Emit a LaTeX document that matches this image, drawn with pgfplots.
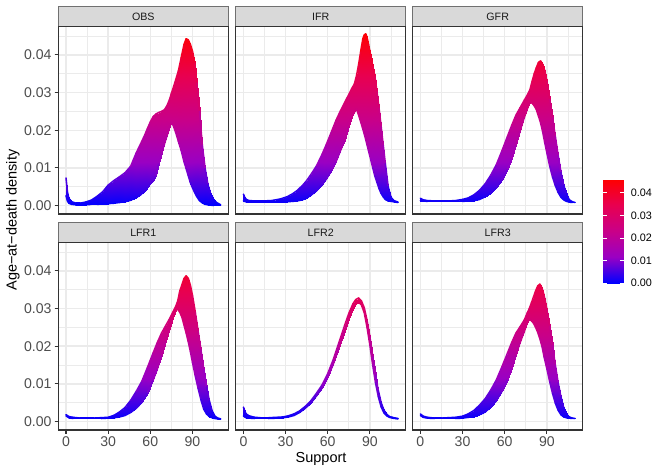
\documentclass[border=0pt]{standalone}
\usepackage{pgfplots}
\pgfplotsset{compat=1.18}
\usepackage{pgfplotstable}
\usepackage{fontspec}
\setmainfont{Liberation Sans}
\definecolor{grey92}{HTML}{EBEBEB}
\definecolor{grey85}{HTML}{D9D9D9}
\definecolor{grey30}{HTML}{4D4D4D}
\definecolor{grey20}{HTML}{333333}
\definecolor{grey10}{HTML}{1A1A1A}
\definecolor{stripborder}{HTML}{707070}
\pgfplotsset{colormap={br}{rgb255=(0,0,255) rgb255=(154,0,195) rgb255=(201,0,136) rgb255=(232,0,80) rgb255=(255,0,0)}}
\pgfplotstableset{create on use/zero/.style={create col/set={0}}}

% each table: lower envelope (first scanline), then upper envelope (second scanline)
\pgfplotstableread{
x y
0 0.0026
1 0.0012
2 0.0006
4 0.0003
7 0.0002
10 0.0002
14 0.0002
18 0.0003
22 0.0003
26 0.0004
30 0.0005
34 0.0006
38 0.0008
42 0.0010
46 0.0014
50 0.0021
53 0.0028
56 0.0038
58 0.0049
60 0.0058
62 0.0065
64 0.0079
66 0.0113
68 0.0139
70 0.0163
72 0.0187
74 0.0211
75 0.0222
76 0.0215
78 0.0195
80 0.0170
82 0.0146
84 0.0116
85.5 0.0098
87 0.0079
88.5 0.0061
90 0.0047
91.5 0.0035
93 0.0024
95 0.0013
97 0.0007
99 0.0003
101 0.0002
103 0.0001
105 0.0000
107 0.0000
110 0.0000
0 0.0073
1 0.0036
2 0.0019
4 0.0010
7 0.0006
10 0.0006
14 0.0009
18 0.0014
22 0.0024
26 0.0036
30 0.0054
34 0.0066
38 0.0076
42 0.0087
46 0.0104
50 0.0140
53 0.0163
56 0.0187
58 0.0205
60 0.0222
62 0.0236
64 0.0243
66 0.0247
68 0.0250
70 0.0254
72 0.0266
74 0.0285
75 0.0298
76 0.0309
78 0.0333
80 0.0358
82 0.0393
84 0.0428
85.5 0.0443
87 0.0440
88.5 0.0428
90 0.0410
91.5 0.0378
93 0.0325
95 0.0250
97 0.0160
99 0.0098
101 0.0055
103 0.0030
105 0.0016
107 0.0008
110 0.0002
}\obs

\pgfplotstableread{
x y
0 0.0012
1 0.0011
2 0.0010
4 0.0010
8 0.0010
14 0.0010
20 0.0010
26 0.0010
31 0.0010
35 0.0011
38 0.0012
42 0.0015
45 0.0020
48 0.0027
52 0.0039
56 0.0055
59 0.0070
63 0.0095
66 0.0117
69 0.0145
72 0.0174
75 0.0210
77 0.0235
79 0.0248
80.5 0.0256
82 0.0240
83.5 0.0222
85 0.0203
86 0.0190
87 0.0176
88 0.0161
89 0.0146
90.5 0.0124
92 0.0101
93.5 0.0079
95 0.0062
96.5 0.0045
98 0.0032
99.5 0.0023
101 0.0016
103 0.0012
105 0.0011
107 0.0010
110 0.0008
0 0.0030
1 0.0021
2 0.0016
4 0.0013
8 0.0012
14 0.0012
20 0.0013
26 0.0017
31 0.0023
35 0.0031
38 0.0039
42 0.0053
45 0.0066
48 0.0082
52 0.0105
56 0.0136
59 0.0162
63 0.0199
66 0.0227
69 0.0251
72 0.0273
75 0.0295
77 0.0310
79 0.0323
80.5 0.0345
82 0.0375
83.5 0.0410
85 0.0443
86 0.0453
87 0.0456
88 0.0447
89 0.0428
90.5 0.0400
92 0.0370
93.5 0.0344
95 0.0303
96.5 0.0259
98 0.0210
99.5 0.0160
101 0.0111
103 0.0050
105 0.0022
107 0.0013
110 0.0009
}\ifr

\pgfplotstableread{
x y
0 0.0013
2 0.0012
5 0.0011
10 0.0011
15 0.0011
20 0.0011
25 0.0011
30 0.0011
34 0.0012
38 0.0013
42 0.0016
46 0.0023
50 0.0033
54 0.0047
58 0.0068
62 0.0097
65 0.0125
68 0.0162
71 0.0199
74 0.0235
76 0.0256
78 0.0275
79.5 0.0272
81 0.0265
82.5 0.0255
84 0.0238
85.5 0.0220
87 0.0196
88.5 0.0167
90 0.0140
92 0.0105
94 0.0076
96 0.0053
98 0.0035
100 0.0022
102 0.0015
104 0.0011
106 0.0009
108 0.0008
110 0.0008
0 0.0019
2 0.0015
5 0.0013
10 0.0012
15 0.0012
20 0.0012
25 0.0013
30 0.0016
34 0.0020
38 0.0028
42 0.0040
46 0.0057
50 0.0080
54 0.0108
58 0.0145
62 0.0184
65 0.0213
68 0.0240
71 0.0260
74 0.0280
76 0.0293
78 0.0308
79.5 0.0330
81 0.0350
82.5 0.0366
84 0.0380
85.5 0.0384
87 0.0375
88.5 0.0358
90 0.0330
92 0.0282
94 0.0233
96 0.0184
98 0.0133
100 0.0088
102 0.0053
104 0.0030
106 0.0015
108 0.0010
110 0.0008
}\gfr

\pgfplotstableread{
x y
0 0.0015
2 0.0010
5 0.0008
10 0.0008
15 0.0008
20 0.0008
25 0.0008
30 0.0009
34 0.0010
38 0.0012
42 0.0016
46 0.0024
50 0.0035
54 0.0051
58 0.0077
62 0.0110
65 0.0140
68 0.0177
71 0.0215
74 0.0248
76 0.0275
78 0.0297
79.5 0.0298
81 0.0290
82.5 0.0277
84 0.0256
85.5 0.0235
87 0.0212
88.5 0.0186
90 0.0157
92 0.0121
94 0.0088
96 0.0058
98 0.0033
100 0.0020
102 0.0013
104 0.0010
106 0.0008
108 0.0007
110 0.0007
0 0.0018
2 0.0013
5 0.0011
10 0.0009
15 0.0009
20 0.0009
25 0.0010
30 0.0011
34 0.0016
38 0.0025
42 0.0037
46 0.0056
50 0.0080
54 0.0107
58 0.0144
62 0.0182
65 0.0210
68 0.0235
71 0.0255
74 0.0275
76 0.0290
78 0.0305
79.5 0.0320
81 0.0347
82.5 0.0363
84 0.0380
85.5 0.0387
87 0.0380
88.5 0.0362
90 0.0335
92 0.0290
94 0.0240
96 0.0190
98 0.0138
100 0.0092
102 0.0055
104 0.0028
106 0.0014
108 0.0009
110 0.0007
}\lfra

\pgfplotstableread{
x y
0 0.0015
1 0.0012
2 0.0010
4 0.0009
8 0.0008
12 0.0008
18 0.0008
24 0.0009
28 0.0010
32 0.0012
36 0.0016
40 0.0024
44 0.0035
48 0.0049
52 0.0068
56 0.0089
60 0.0117
64 0.0153
68 0.0196
72 0.0241
75 0.0273
78 0.0300
80 0.0312
82 0.0317
84 0.0310
86 0.0289
88 0.0250
90 0.0203
92 0.0150
94 0.0103
96 0.0066
98 0.0039
100 0.0023
102 0.0015
104 0.0011
106 0.0009
108 0.0008
110 0.0007
0 0.0038
1 0.0027
2 0.0020
4 0.0015
8 0.0011
12 0.0010
18 0.0010
24 0.0011
28 0.0012
32 0.0015
36 0.0020
40 0.0028
44 0.0040
48 0.0055
52 0.0075
56 0.0097
60 0.0127
64 0.0165
68 0.0210
72 0.0255
75 0.0287
78 0.0313
80 0.0324
82 0.0328
84 0.0320
86 0.0302
88 0.0268
90 0.0225
92 0.0172
94 0.0123
96 0.0082
98 0.0050
100 0.0030
102 0.0019
104 0.0013
106 0.0011
108 0.0009
110 0.0008
}\lfrb

\pgfplotstableread{
x y
0 0.0016
2 0.0011
5 0.0009
10 0.0008
15 0.0008
20 0.0008
25 0.0008
30 0.0009
34 0.0011
38 0.0013
42 0.0018
46 0.0025
50 0.0038
54 0.0055
58 0.0080
62 0.0112
65 0.0143
68 0.0177
71 0.0210
74 0.0240
76 0.0262
77.5 0.0271
79 0.0268
80.5 0.0261
82 0.0250
83.5 0.0237
85 0.0220
86.5 0.0200
88 0.0172
90 0.0140
92 0.0106
94 0.0075
96 0.0049
98 0.0030
100 0.0018
102 0.0012
104 0.0010
106 0.0009
108 0.0008
110 0.0008
0 0.0020
2 0.0014
5 0.0011
10 0.0009
15 0.0009
20 0.0010
25 0.0011
30 0.0014
34 0.0020
38 0.0029
42 0.0043
46 0.0060
50 0.0083
54 0.0110
58 0.0145
62 0.0182
65 0.0210
68 0.0235
71 0.0252
74 0.0270
76 0.0288
77.5 0.0300
79 0.0315
80.5 0.0331
82 0.0347
83.5 0.0360
85 0.0365
86.5 0.0355
88 0.0335
90 0.0297
92 0.0253
94 0.0202
96 0.0150
98 0.0103
100 0.0065
102 0.0036
104 0.0019
106 0.0012
108 0.0009
110 0.0008
}\lfrc

% background grid drawn before the data (ggplot grey92 grid)
\newcommand\panelgrid{%
  \pgfplotsinvokeforeach{15,45,75,105}{\draw[grey92, line width=0.53pt] (axis cs:##1,-0.003,0) -- (axis cs:##1,0.05,0);}
  \pgfplotsinvokeforeach{0.005,0.015,0.025,0.035,0.045}{\draw[grey92, line width=0.53pt] (axis cs:-6,##1,0) -- (axis cs:116,##1,0);}
  \pgfplotsinvokeforeach{0,30,60,90}{\draw[grey92, line width=1.07pt] (axis cs:##1,-0.003,0) -- (axis cs:##1,0.05,0);}
  \pgfplotsinvokeforeach{0,0.01,0.02,0.03,0.04}{\draw[grey92, line width=1.07pt] (axis cs:-6,##1,0) -- (axis cs:116,##1,0);}
}
% band (lower + upper envelope filled, colour = density) and its two edge curves
\newcommand\densband[2]{%
  \addplot3[surf, shader=interp, mesh/rows=2, mesh/cols=#2, point meta=y] table[x=x, y=y, z=zero] {#1};
  \addplot3[mesh, mesh/rows=1, z buffer=none, unbounded coords=jump, point meta=y, line width=1.2pt, line cap=round, skip coords between index={#2}{200}] table[x=x, y=y, z=zero] {#1};
  \addplot3[mesh, mesh/rows=1, z buffer=none, unbounded coords=jump, point meta=y, line width=1.2pt, line cap=round, skip coords between index={0}{#2}] table[x=x, y=y, z=zero] {#1};
}

\pgfplotsset{
  panel/.style={
    scale only axis, width=129pt, height=142.1pt, anchor=north west,
    view={0}{90},
    xmin=-5.5, xmax=115.5, ymin=-0.00226, ymax=0.0475, zmin=-1, zmax=1,
    xtick={0,30,60,90}, ytick={0,0.01,0.02,0.03,0.04}, ztick=\empty,
    axis line style={draw=none},
    tick align=outside, major tick length=2.75pt,
    xtick pos=left, ytick pos=left,
    tick style={grey20, line width=0.8pt},
    tick label style={font=\fontsize{10.7}{12}\selectfont, text=grey30, inner sep=2.2pt},
    /pgf/number format/assume math mode=true,
    scaled y ticks=false,
    yticklabel style={/pgf/number format/.cd, fixed, fixed zerofill, precision=2},
    colormap name=br, point meta min=0, point meta max=0.046,
  },
  strip/.style={extra description/.code={
     \draw[fill=grey85, draw=stripborder, line width=0.7pt] (0,1) rectangle ([yshift=15.4pt]1,1);
     \node[font=\fontsize{8.1}{10}\selectfont, text=grey10] at ([yshift=7.7pt]0.5,1) {#1};
     \draw[grey20, line width=1.1pt] (0,0) rectangle (1,1);
  }},
  noxt/.style={xticklabels={}, xtick style={draw=none}},
  noyt/.style={yticklabels={}, ytick style={draw=none}},
}

\begin{document}
\begin{tikzpicture}
\useasboundingbox (0,0) rectangle (503.8pt,-359.6pt);

\begin{axis}[panel, at={(44.23pt,-20.26pt)}, strip=OBS, noxt]
\panelgrid
\densband{\obs}{47}
\end{axis}
\begin{axis}[panel, at={(178.83pt,-20.26pt)}, strip=IFR, noxt, noyt]
\panelgrid
\densband{\ifr}{44}
\end{axis}
\begin{axis}[panel, at={(313.12pt,-20.26pt)}, strip=GFR, noxt, noyt]
\panelgrid
\densband{\gfr}{40}
\end{axis}
\begin{axis}[panel, at={(44.23pt,-184.14pt)}, strip=LFR1]
\panelgrid
\densband{\lfra}{40}
\end{axis}
\begin{axis}[panel, at={(178.83pt,-184.14pt)}, strip=LFR2, noyt]
\panelgrid
\densband{\lfrb}{38}
\end{axis}
\begin{axis}[panel, at={(313.12pt,-184.14pt)}, strip=LFR3, noyt]
\panelgrid
\densband{\lfrc}{40}
\end{axis}

% colour bar
\begin{axis}[at={(457.7pt,-136.0pt)}, anchor=north west, scale only axis,
  width=15.9pt, height=78.9pt, view={0}{90},
  xmin=0, xmax=1, ymin=0, ymax=0.046, zmin=-1, zmax=1,
  xtick=\empty, ztick=\empty, ytick={0,0.01,0.02,0.03,0.04},
  axis line style={draw=none},
  ytick pos=both, yticklabel pos=right, tick align=inside, major tick length=3.2pt,
  ytick style={white, line width=0.6pt},
  yticklabel style={font=\fontsize{8.2}{10}\selectfont, text=black, inner sep=2.2pt, xshift=2.7pt,
    /pgf/number format/.cd, fixed, fixed zerofill, precision=2},
  /pgf/number format/assume math mode=true, scaled y ticks=false,
  colormap name=br, point meta min=0, point meta max=0.046]
\addplot3[surf, shader=interp, mesh/rows=2, mesh/cols=2, point meta=y] coordinates {(0,0,0) (1,0,0) (0,0.046,0) (1,0.046,0)};
\end{axis}

\node[rotate=90, font=\fontsize{11}{13}\selectfont, text=black] at (9.7pt,-167pt) {Age−at−death density};
\node[anchor=base, font=\fontsize{11}{13}\selectfont, text=black] at (243.6pt,-351pt) {Support};
\end{tikzpicture}
\end{document}
